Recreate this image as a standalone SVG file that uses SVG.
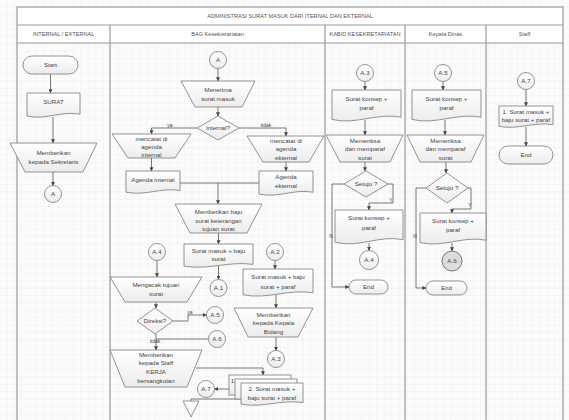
<svg xmlns="http://www.w3.org/2000/svg" width="569" height="420" viewBox="0 0 569 420">
<defs>
<pattern id="grid" width="7.4" height="7.4" patternUnits="userSpaceOnUse">
<path d="M7.4 0V7.4M0 7.4H7.4" fill="none" stroke="#e6e6e6" stroke-width="0.6"/>
</pattern>
<linearGradient id="sg" x1="0" y1="0" x2="0" y2="1">
<stop offset="0" stop-color="#ffffff"/>
<stop offset="1" stop-color="#ececec"/>
</linearGradient>
<marker id="ar" viewBox="0 0 6 6" refX="5.5" refY="3" markerWidth="5" markerHeight="5" orient="auto">
<path d="M0 0L6 3L0 6Z" fill="#444"/>
</marker>
<style>
.t{font-family:"Liberation Sans",Arial,sans-serif;font-size:6.2px;fill:#444;text-anchor:middle}
.h{font-family:"Liberation Sans",Arial,sans-serif;font-size:5.6px;fill:#555;text-anchor:middle}
.s{fill:url(#sg);stroke:#7a7a7a;stroke-width:0.8}
.c{fill:none;stroke:#555;stroke-width:0.8}
.a{marker-end:url(#ar)}
.tbl{fill:none;stroke:#9a9a9a;stroke-width:1.2}
</style>
</defs>
<rect width="569" height="420" fill="#fbfbfb"/>
<rect width="569" height="420" fill="url(#grid)"/>
<g id="table">
<rect x="17" y="7" width="546" height="36" fill="#ffffff"/>
<rect class="tbl" x="17" y="7" width="546" height="420"/>
<path class="tbl" d="M17 25H563M17 43H563M110 25V420M325 25V420M405 25V420M486 25V420"/>
<text class="h" x="290" y="18">ADMINISTRASI SURAT MASUK DARI ITERNAL DAN EKTERNAL</text>
<text class="h" x="63.5" y="36">INTERNAL / EXTERNAL</text>
<text class="h" x="217.5" y="36">BAG Kesekretariatan</text>
<text class="h" x="365" y="36">KABID KESEKRETARIATAN</text>
<text class="h" x="445.5" y="36">Kepala Dinas</text>
<text class="h" x="524.5" y="36">Staff</text>
</g>
<g id="connectors">
<path class="c a" d="M50.5 74V93"/>
<path class="c a" d="M53 117V143"/>
<path class="c a" d="M53 172V185.5"/>
<path class="c a" d="M218 68.5V81"/>
<path class="c a" d="M218 107V116"/>
<path class="c a" d="M197 128H151.5V134"/>
<path class="c a" d="M239 128H286V136"/>
<path class="c a" d="M151.5 158V171"/>
<path class="c a" d="M286 162V171"/>
<path class="c" d="M180 183H259"/>
<path class="c a" d="M218 183V204"/>
<path class="c a" d="M218.5 233V244"/>
<path class="c a" d="M218.5 266V279.5"/>
<path class="c a" d="M157 260.5V277"/>
<path class="c a" d="M275 260.5V269"/>
<path class="c a" d="M276 295V308"/>
<path class="c a" d="M276 337V350.5"/>
<path class="c a" d="M156 302V308"/>
<path class="c a" d="M173 321H188V315H206.5"/>
<path class="c" d="M208.5 339H156"/>
<path class="c a" d="M156 334V350"/>
<path class="c a" d="M196 368H263V375"/>
<path class="c a" d="M229 389H214.5"/>
<path class="c" d="M241 399H191V401"/>
<path class="c a" d="M365 81.5V90"/>
<path class="c a" d="M365 120V135"/>
<path class="c a" d="M365 162V171"/>
<path class="c a" d="M388 184H393V203H369V210"/>
<path class="c a" d="M344 184H332V287H349"/>
<path class="c a" d="M369 243V250.5"/>
<path class="c a" d="M443 81.5V90"/>
<path class="c a" d="M445 120V135"/>
<path class="c a" d="M446 162V173"/>
<path class="c a" d="M468 188H471V209H452V213"/>
<path class="c a" d="M426 188H416V288H426"/>
<path class="c a" d="M452 243V251"/>
<path class="c a" d="M526 89.5V106"/>
<path class="c a" d="M526 127V146"/>
<text class="t" x="170" y="127" style="font-size:5px">ya</text>
<text class="t" x="266" y="127" style="font-size:5px">tidak</text>
<text class="t" x="190" y="314" style="font-size:5px">ya</text>
<text class="t" x="155" y="343" style="font-size:5px">tidak</text>
<text class="t" x="391" y="202" style="font-size:5px">Y</text>
<text class="t" x="331" y="238" style="font-size:5px">N</text>
<text class="t" x="470" y="207" style="font-size:5px">Y</text>
<text class="t" x="415" y="238" style="font-size:5px">N</text>
</g>
<g id="start"><rect class="s" x="23" y="56" width="55" height="18" rx="9"/><text class="t" x="50.5" y="67">Start</text></g>
<g id="surat"><path class="s" d="M27 93H80V114.25C61.45 110.5 45.55 120.5 27 116Z"/><text class="t" x="53.5" y="104">SURAT</text></g>
<g id="memberikan-sekretaris"><path class="s" d="M10 143H97L83 172H25Z"/><text class="t" x="53.5" y="155">Memberikan</text><text class="t" x="53.5" y="164">kepada Sekretaris</text></g>
<g id="a-left"><circle class="s" cx="53" cy="194" r="8.5"/><text class="t" x="53" y="196.2">A</text></g>
<g id="a-bag"><circle class="s" cx="218" cy="60" r="8.5"/><text class="t" x="218" y="62.2">A</text></g>
<g id="menerima"><path class="s" d="M181 81H255L242 107H195Z"/><text class="t" x="218" y="92">Menerima</text><text class="t" x="218" y="101">surat masuk</text></g>
<g id="internal-q"><path class="s" d="M218 116L239 128L218 140L197 128Z"/><text class="t" x="218" y="130">internal?</text></g>
<g id="catat-internal"><path class="s" d="M112 134H191L175 158H128Z"/><text class="t" x="151.5" y="141">mencatat di</text><text class="t" x="151.5" y="149">agenda</text><text class="t" x="151.5" y="157">internal</text></g>
<g id="catat-ekternal"><path class="s" d="M247 136H324L309 162H263Z"/><text class="t" x="286" y="143">mencatat di</text><text class="t" x="286" y="151">agenda</text><text class="t" x="286" y="159.5">ekternal</text></g>
<g id="agenda-internal"><path class="s" d="M126 171H180V190.55C161.1 187.1 144.9 196.3 126 192.16Z"/><text class="t" x="153" y="182">Agenda internal</text></g>
<g id="agenda-ekternal"><path class="s" d="M259 171H313V192.25C294.1 188.5 277.9 198.5 259 194Z"/><text class="t" x="286" y="179">Agenda</text><text class="t" x="286" y="188">ekternal</text></g>
<g id="baju-surat"><path class="s" d="M175 204H262L247 233H190Z"/><text class="t" x="218.5" y="214">Memberikan baju</text><text class="t" x="218.5" y="222.5">surat keterangan</text><text class="t" x="218.5" y="231">tujuan surat</text></g>
<g id="surat-baju"><path class="s" d="M184 244H253V264.4C228.85 260.8 208.15 270.4 184 266.08Z"/><text class="t" x="218.5" y="252.5">Surat masuk + baju</text><text class="t" x="218.5" y="261">surat</text></g>
<g id="a1"><circle class="s" cx="218.5" cy="288" r="8.5"/><text class="t" x="218.5" y="290.2">A.1</text></g>
<g id="a4-bag"><circle class="s" cx="157" cy="252" r="8.5"/><text class="t" x="157" y="254.2">A.4</text></g>
<g id="a2"><circle class="s" cx="275" cy="252" r="8.5"/><text class="t" x="275" y="254.2">A.2</text></g>
<g id="surat-paraf"><path class="s" d="M243 269H313V292.8C288.5 288.6 267.5 299.8 243 294.76Z"/><text class="t" x="278" y="279">Surat masuk + baju</text><text class="t" x="278" y="288.5">surat + paraf</text></g>
<g id="mengacak"><path class="s" d="M110 277H202L187 302H125Z"/><text class="t" x="156" y="287">Mengacak tujuan</text><text class="t" x="156" y="296">surat</text></g>
<g id="kepala-bidang"><path class="s" d="M234 308H313L298 337H248Z"/><text class="t" x="273.5" y="316.5">Memberikan</text><text class="t" x="273.5" y="325">kepada Kepala</text><text class="t" x="273.5" y="333.5">Bidang</text></g>
<g id="a3-bag"><circle class="s" cx="276" cy="359" r="8.5"/><text class="t" x="276" y="361.2">A.3</text></g>
<g id="direksi"><path class="s" d="M155 308L173 321L155 334L137 321Z"/><text class="t" x="155" y="323">Direksi?</text></g>
<g id="a5-bag"><circle class="s" cx="215" cy="315" r="8.5"/><text class="t" x="215" y="317.2">A.5</text></g>
<g id="a6-bag"><circle class="s" cx="217" cy="339" r="8.5"/><text class="t" x="217" y="341.2">A.6</text></g>
<g id="staff-kerja"><path class="s" d="M110 350H202L187 387H125Z"/><text class="t" x="156" y="356.5">Memberikan</text><text class="t" x="156" y="365">kepada Staff</text><text class="t" x="156" y="373.5">KERJA</text><text class="t" x="156" y="382.5">bersangkutan</text></g>
<g id="multidoc"><rect class="s" x="229" y="375" width="62" height="20"/><rect class="s" x="235" y="379" width="62" height="20"/><path class="s" d="M241 383H303V402.55C281.3 399.1 262.7 408.3 241 404.16Z"/><text class="t" x="232.5" y="382.5">1</text><text class="t" x="272" y="391">2. Surat masuk +</text><text class="t" x="272" y="400">baju surat + paraf</text></g>
<g id="a7-bag"><circle class="s" cx="206" cy="389" r="8.5"/><text class="t" x="206" y="391.2">A.7</text></g>
<g id="arsip"><path class="s" d="M183 401H199L191 417Z"/></g>
<g id="a3-kabid"><circle class="s" cx="365" cy="73" r="8.5"/><text class="t" x="365" y="75.2">A.3</text></g>
<g id="konsep-kabid"><path class="s" d="M332 90H401V117.2C376.85 112.4 356.15 125.2 332 119.44Z"/><text class="t" x="366.5" y="101">Surat konsep +</text><text class="t" x="366.5" y="110">paraf</text></g>
<g id="periksa-kabid"><path class="s" d="M326 135H403L390 162H340Z"/><text class="t" x="365" y="143">Memeriksa</text><text class="t" x="365" y="151">dan memparaf</text><text class="t" x="365" y="159.5">surat</text></g>
<g id="setuju-kabid"><path class="s" d="M366 171L388 184L366 197L344 184Z"/><text class="t" x="366" y="186">Setuju ?</text></g>
<g id="konsep2-kabid"><path class="s" d="M335 210H403V239.75C379.2 234.5 358.8 248.5 335 242.2Z"/><text class="t" x="369" y="220">Surat konsep +</text><text class="t" x="369" y="229.5">paraf</text></g>
<g id="a4-kabid"><circle class="s" cx="369" cy="260" r="9.5"/><text class="t" x="369" y="262.2">A.4</text></g>
<g id="end-kabid"><rect class="s" x="349" y="280" width="39" height="14" rx="7"/><text class="t" x="368.5" y="289">End</text></g>
<g id="a5-dinas"><circle class="s" cx="443" cy="73" r="8.5"/><text class="t" x="443" y="75.2">A.5</text></g>
<g id="konsep-dinas"><path class="s" d="M412 90H481V117.2C456.85 112.4 436.15 125.2 412 119.44Z"/><text class="t" x="446.5" y="101">Surat konsep +</text><text class="t" x="446.5" y="110">paraf</text></g>
<g id="periksa-dinas"><path class="s" d="M407 135H484L471 162H420Z"/><text class="t" x="445.5" y="143">Memeriksa</text><text class="t" x="445.5" y="151">dan memparaf</text><text class="t" x="445.5" y="159.5">surat</text></g>
<g id="setuju-dinas"><path class="s" d="M447 173L468 188L447 203L426 188Z"/><text class="t" x="447" y="190">Setuju ?</text></g>
<g id="konsep2-dinas"><path class="s" d="M420 213H486V240.2C462.9 235.4 443.1 248.2 420 242.44Z"/><text class="t" x="453" y="223">Surat konsep +</text><text class="t" x="453" y="232">paraf</text></g>
<g id="a6-dinas"><circle cx="452" cy="261" r="10" fill="#dcdcdc" stroke="#777" stroke-width="1"/><text class="t" x="452" y="263.2">A.6</text></g>
<g id="end-dinas"><rect class="s" x="426" y="281" width="41" height="14" rx="7"/><text class="t" x="446.5" y="290">End</text></g>
<g id="a7-staff"><circle class="s" cx="526" cy="81" r="8.5"/><text class="t" x="526" y="83.2">A.7</text></g>
<g id="surat-staff"><path class="s" d="M499 106H553V124.7C534.1 121.4 517.9 130.2 499 126.24Z"/><text class="t" x="526" y="113.5">1. Surat masuk +</text><text class="t" x="526" y="122">baju surat + paraf</text></g>
<g id="end-staff"><rect class="s" x="499" y="146" width="54" height="18" rx="9"/><text class="t" x="526" y="157">End</text></g>
</svg>
